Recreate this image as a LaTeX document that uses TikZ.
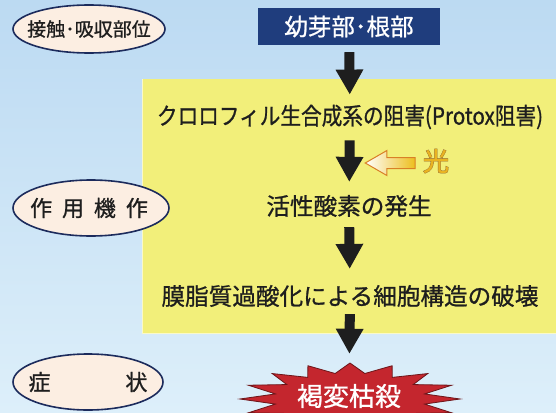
\documentclass[tikz,border=0pt]{standalone}
\usepackage{fontspec}
\newfontfamily\jp[FakeBold=0.9]{Noto Sans CJK JP}
\newfontfamily\jpfat[FakeBold=4]{Noto Sans CJK JP}
\newfontfamily\jpsemi[FakeBold=1.5]{Noto Sans CJK JP}
\usetikzlibrary{arrows.meta,shapes.arrows,shapes.geometric}
\definecolor{bgtop}{HTML}{BCDAF2}
\definecolor{bgbot}{HTML}{DDEFFA}
\definecolor{ylw}{HTML}{F2EF7A}
\definecolor{navy}{HTML}{1F3D7D}
\definecolor{peach}{HTML}{FCEEE2}
\definecolor{ring}{HTML}{1C2B5C}
\definecolor{burstred}{HTML}{C4262E}
\definecolor{gold}{HTML}{E9B322}
\definecolor{ink}{HTML}{1E1E1E}
\begin{document}
\begin{tikzpicture}[x=1pt,y=-1pt,
  lbl/.style={inner sep=0pt, text=ink, font=\jp\fontsize{19}{19}\selectfont},
  ring/.style={draw=ring, line width=1.6pt, fill=peach},
  flowtext/.style={font=\jp\fontsize{23.6}{23.6}\selectfont, inner sep=0pt, text=ink},
  bigarrow/.style={line width=10pt, draw=ink, -{Triangle[length=25pt,width=26pt]}},
]
\useasboundingbox (0,0) rectangle (556,412);
\clip (0,0) rectangle (556,412);
% background
\shade[top color=bgtop, bottom color=bgbot] (0,0) rectangle (556,412);
% yellow panel
\fill[ylw] (142,79) rectangle (560,334);
\draw[white!60!ylw, line width=1pt] (142.5,79) -- (142.5,333.5) -- (560,333.5);

% left labels
\draw[ring] (89,29) ellipse [x radius=76, y radius=24];
\draw[ring] (91,208) ellipse [x radius=78, y radius=28];
\draw[ring] (88,382) ellipse [x radius=75, y radius=28];
\node[lbl] (l1) at (89,29) {接触･吸収部位};
\node[lbl, font=\jp\fontsize{22}{22}\selectfont] (l2) at (89,208) {作\hspace{0.45em}用\hspace{0.45em}機\hspace{0.45em}作};
\node[lbl, font=\jp\fontsize{22}{22}\selectfont] (l3) at (88,382) {症\hspace{3.4em}状};

% top box
\node[fill=navy, minimum width=182pt, minimum height=37pt, inner sep=0pt, text=white, font=\jp\fontsize{23.5}{23.5}\selectfont] (top) at (349,26.5) {幼芽部･根部};

% flow texts
\node[flowtext] (t1) at (350,117) {\scalebox{0.875}[1]{クロロフィル生合成系の阻害(Protox阻害)}};
\node[flowtext] (t2) at (349,206) {活性酸素の発生};
\node[flowtext] (t3) at (350,296) {膜脂質過酸化による細胞構造の破壊};

% burst
\begin{scope}[shift={(350,399)}]
\filldraw[fill=burstred, draw=burstred!55!black, line width=0.8pt]
  (0:110 and 36)
  \foreach \i in {0,...,15}{ -- ({\i*22.5+11.25}:76 and 26) -- ({\i*22.5+22.5}:110 and 36) } -- cycle;
\end{scope}
\node[text=white, font=\jp\fontsize{26}{26}\selectfont, inner sep=0pt] (burst) at (349,396) {褐変枯殺};

% arrows
\draw[bigarrow, shorten <=7pt, shorten >=10pt] (top) -- (t1);
\draw[bigarrow, shorten <=11pt, shorten >=13pt] (t1) -- (t2);
\draw[bigarrow, shorten <=10pt, shorten >=16pt] (t2) -- (t3);
\draw[bigarrow, shorten <=7pt, shorten >=30pt] (t3) -- (burst);

% light
\node[font=\jpfat\fontsize{26}{26}\selectfont, text=brown!70!black, inner sep=0pt] (hikarishadow) at (436,161) {光};
\node[font=\jpsemi\fontsize{26}{26}\selectfont, text=gold, inner sep=0pt] (hikari) at (436,161) {光};
\node[single arrow, shape border rotate=180, draw=brown!60!orange, line width=1pt,
  left color=white, right color=gold!85!yellow, inner sep=5pt, minimum height=50pt,
  single arrow head extend=7pt, single arrow tip angle=60] (light) at (395,163) {};
\end{tikzpicture}
\end{document}
